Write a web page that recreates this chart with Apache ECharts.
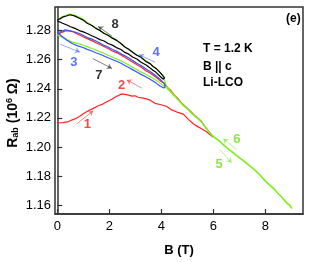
<!DOCTYPE html>
<html><head><meta charset="utf-8">
<script src="https://cdn.jsdelivr.net/npm/echarts@6/dist/echarts.min.js"></script>
<style>html,body{margin:0;padding:0;background:#fff}#c{width:316px;height:262px}</style>
</head><body><div id="c"></div>
<script>
// ---- data (B in T, R in 10^6 Ohm) ----
const xTicks = [0, 2, 4, 6, 8];
const yTicks = [1.16, 1.18, 1.20, 1.22, 1.24, 1.26, 1.28];

const red1Up = [[0,1.2165],[0.2,1.2168],[0.4,1.2172],[0.55,1.2185],[0.68,1.2193],[0.85,1.2210],[1.0,1.2228],[1.19,1.2249],[1.35,1.2262],[1.58,1.2283],[1.75,1.2295],[1.96,1.2316],[2.1,1.2328],[2.25,1.2345],[2.48,1.2365],[2.6,1.2362],[2.75,1.2356],[2.86,1.2350],[3.0,1.2352],[3.1,1.2342],[3.25,1.2338],[3.4,1.2332],[3.57,1.2322],[3.76,1.2300],[3.95,1.2292],[4.2,1.2280],[4.4,1.2255],[4.6,1.2240],[4.85,1.2226],[5.04,1.2190],[5.23,1.2160],[5.4,1.2140],[5.55,1.2126],[5.75,1.2103],[5.94,1.2075],[6.0,1.2068]];

const red2Down = [[6.0,1.2068],[5.85,1.2100],[5.7,1.2135],[5.55,1.2175],[5.4,1.2200],[5.25,1.2222],[5.1,1.2250],[4.95,1.2275],[4.8,1.2298],[4.65,1.2330],[4.5,1.2358],[4.35,1.2390],[4.18,1.2420],[4.1,1.2440],[3.95,1.2456],[3.80,1.2479],[3.57,1.2509],[3.40,1.2525],[3.22,1.2550],[3.06,1.2565],[2.91,1.2583],[2.75,1.2600],[2.60,1.2617],[2.45,1.2632],[2.30,1.2647],[2.12,1.2660],[1.95,1.2677],[1.80,1.2690],[1.64,1.2704],[1.48,1.2716],[1.33,1.2731],[1.15,1.2745],[0.99,1.2758],[0.85,1.2770],[0.68,1.2785],[0.55,1.2795],[0.41,1.2799],[0.3,1.2797],[0.18,1.2788],[0,1.2774]];

const green5Up = [[0,1.2771],[0.18,1.2754],[0.37,1.2738],[0.57,1.2721],[0.78,1.2712],[0.99,1.2701],[1.15,1.2690],[1.33,1.2677],[1.48,1.2667],[1.64,1.2654],[1.80,1.2644],[1.95,1.2630],[2.12,1.2618],[2.30,1.2603],[2.45,1.2592],[2.60,1.2577],[2.75,1.2563],[2.91,1.2546],[3.06,1.2532],[3.22,1.2516],[3.40,1.2500],[3.57,1.2483],[3.80,1.2459],[3.95,1.2439],[4.18,1.2408],[4.33,1.2383],[4.5,1.2352],[4.65,1.2322],[4.85,1.2283],[5.0,1.2262],[5.2,1.2225],[5.35,1.2205],[5.49,1.2182],[5.65,1.2150],[5.8,1.2108],[6.0,1.2070],[6.2,1.2045],[6.4,1.2012],[6.6,1.1982],[6.77,1.1958],[6.95,1.1932],[7.1,1.1912],[7.25,1.1890],[7.41,1.1868],[7.6,1.1840],[7.8,1.1806],[8.05,1.1756],[8.2,1.1732],[8.35,1.1708],[8.5,1.1680],[8.69,1.1645],[8.8,1.1622],[8.9,1.1605],[9.02,1.1578]];

const green6Down = [[9.02,1.1578],[8.96,1.1598],[8.9,1.1592],[8.85,1.1610],[8.75,1.1628],[8.6,1.1662],[8.45,1.1690],[8.3,1.1720],[8.15,1.1742],[8.0,1.1768],[7.8,1.1808],[7.6,1.1843],[7.41,1.1872],[7.2,1.1902],[7.0,1.1928],[6.77,1.1962],[6.6,1.1985],[6.4,1.2016],[6.2,1.2048],[6.0,1.2074],[5.8,1.2112],[5.6,1.2162],[5.4,1.2195],[5.2,1.2228],[5.0,1.2266],[4.85,1.2287],[4.65,1.2326],[4.5,1.2356],[4.33,1.2387],[4.2,1.2420],[4.12,1.2460],[4.07,1.2486],[3.95,1.2513],[3.80,1.2540],[3.57,1.2573],[3.22,1.2617],[2.91,1.2650],[2.60,1.2687],[2.30,1.2731],[1.95,1.2768],[1.64,1.2801],[1.33,1.2837],[1.15,1.2855],[1.0,1.2878],[0.85,1.2891],[0.68,1.2905],[0.49,1.2914],[0.35,1.2906],[0.2,1.2897],[0.1,1.2884],[0,1.2879]];

const blue3Up = [[0,1.2788],[0.18,1.2761],[0.37,1.2734],[0.57,1.2711],[0.78,1.2695],[0.99,1.2684],[1.15,1.2671],[1.33,1.2660],[1.48,1.2648],[1.64,1.2637],[1.80,1.2625],[1.95,1.2613],[2.12,1.2601],[2.30,1.2587],[2.45,1.2575],[2.60,1.2560],[2.75,1.2546],[2.91,1.2530],[3.06,1.2515],[3.22,1.2499],[3.40,1.2483],[3.57,1.2466],[3.80,1.2439],[3.95,1.2419],[4.1,1.2405],[4.15,1.2415]];

const blue4Down = [[4.15,1.2415],[4.15,1.2428],[4.1,1.2439],[3.95,1.2466],[3.80,1.2489],[3.57,1.2519],[3.40,1.2538],[3.22,1.2560],[3.06,1.2575],[2.91,1.2593],[2.75,1.2612],[2.60,1.2627],[2.45,1.2640],[2.30,1.2657],[2.12,1.2670],[1.95,1.2687],[1.80,1.2698],[1.64,1.2714],[1.48,1.2728],[1.33,1.2741],[1.15,1.2752],[0.99,1.2768],[0.85,1.2780],[0.68,1.2790],[0.49,1.2798],[0.3,1.2805],[0.18,1.2795],[0,1.2785]];

const black7Up = [[0,1.2868],[0.18,1.2852],[0.37,1.2838],[0.49,1.2828],[0.68,1.2815],[0.85,1.2800],[1.0,1.2791],[1.15,1.2780],[1.33,1.2764],[1.48,1.2752],[1.64,1.2738],[1.80,1.2728],[1.95,1.2711],[2.12,1.2700],[2.30,1.2681],[2.45,1.2670],[2.60,1.2650],[2.75,1.2638],[2.91,1.2617],[3.06,1.2605],[3.22,1.2583],[3.40,1.2565],[3.57,1.2543],[3.68,1.2528],[3.80,1.2513],[3.95,1.2486],[4.07,1.2466],[4.13,1.2475]];

const black8Down = [[4.13,1.2475],[4.07,1.2486],[3.95,1.2513],[3.80,1.2540],[3.68,1.2553],[3.57,1.2573],[3.40,1.2588],[3.22,1.2617],[3.06,1.2630],[2.91,1.2650],[2.75,1.2672],[2.60,1.2687],[2.45,1.2711],[2.30,1.2731],[2.12,1.2748],[1.95,1.2768],[1.80,1.2780],[1.64,1.2801],[1.48,1.2815],[1.33,1.2835],[1.15,1.2850],[1.0,1.2872],[0.85,1.2885],[0.68,1.2899],[0.58,1.2905],[0.49,1.2909],[0.35,1.2900],[0.2,1.2892],[0.1,1.2880],[0,1.2875]];

// sweep arrows: [tail, head] in data units, and sweep labels
const arrowNames = ['1','2','3','4','5','6','7','8'];
const arrowTails = [[0.75,1.2159],[3.25,1.2405],[0.10,1.2707],[3.76,1.2583],[6.26,1.1981],[6.90,1.1981],[1.37,1.2607],[2.11,1.2761]];
const arrowHeads = [[1.38,1.2249],[2.67,1.2461],[0.87,1.2652],[3.14,1.2634],[6.71,1.1891],[6.38,1.2058],[2.10,1.2540],[1.57,1.2828]];
const labelPos = [[1.16,1.2154],[2.47,1.2425],[0.64,1.2580],[3.80,1.2650],[6.22,1.1882],[6.91,1.2053],[1.60,1.2493],[2.22,1.2842]];

const RED = '#ff2222', BLUE = '#3355ff', GREEN = '#7ff01c', BLACK = '#000000';
const LRED = '#ee1c1c', LBLUE = '#3050ee', LGREEN = '#6ee01a';
const arrowColors = [LRED, LRED, LBLUE, LBLUE, LGREEN, LGREEN, BLACK, BLACK];

const chart = echarts.init(document.getElementById('c'), null, {renderer: 'canvas'});
const FONT = '"Liberation Sans", Arial, sans-serif';

function curve(data, color) {
  return {type: 'line', data: data, showSymbol: false, symbol: 'none', animation: false,
    lineStyle: {color: color, width: 1.2}, z: 2};
}

const series = [
  curve(red1Up, RED), curve(red2Down, RED),
  curve(green5Up, GREEN), curve(green6Down, GREEN),
  curve(blue3Up, BLUE), curve(blue4Down, BLUE),
  curve(black7Up, BLACK), curve(black8Down, BLACK),
  {type: 'lines', coordinateSystem: 'cartesian2d', animation: false, z: 5,
   symbol: ['none', 'arrow'], symbolSize: 5,
   data: arrowNames.map((n, i) => ({coords: [arrowTails[i], arrowHeads[i]],
     lineStyle: {color: arrowColors[i], width: 1}}))},
  {type: 'scatter', animation: false, symbolSize: 1, z: 6,
   itemStyle: {color: 'rgba(0,0,0,0)'},
   label: {show: true, position: 'inside', fontFamily: FONT, fontWeight: 'bold', fontSize: 13,
     formatter: p => p.name},
   data: arrowNames.map((n, i) => ({name: n, value: labelPos[i],
     label: {color: arrowColors[i]}}))}
];

chart.setOption({
  animation: false,
  grid: {left: 55, right: 13, top: 7, bottom: 43, show: true, borderColor: '#333', borderWidth: 1.5},
  xAxis: {type: 'value', min: -0.088, max: 9.45,
    name: 'B (T)', nameLocation: 'middle', nameGap: 30,
    nameTextStyle: {fontFamily: FONT, fontWeight: 'bold', fontSize: 13, color: '#000'},
    axisLine: {show: true, lineStyle: {color: '#333', width: 1.5}},
    axisTick: {show: true, inside: true, length: 5, customValues: xTicks, lineStyle: {color: '#333', width: 1.2}},
    axisLabel: {customValues: xTicks, margin: 6, fontFamily: FONT, fontSize: 13, color: '#000',
      formatter: v => String(Math.round(v))},
    splitLine: {show: false}},
  yAxis: {type: 'value', min: 1.15396, max: 1.2962,
    axisLine: {show: true, lineStyle: {color: '#333', width: 1.5}},
    axisTick: {show: true, inside: true, length: 5, customValues: yTicks, lineStyle: {color: '#333', width: 1.2}},
    axisLabel: {customValues: yTicks, margin: 4, fontFamily: FONT, fontSize: 13, color: '#000',
      formatter: v => v.toFixed(2)},
    splitLine: {show: false}},
  graphic: [
    {type: 'text', left: 203, top: 43, style: {text: 'T = 1.2 K', font: 'bold 12px ' + FONT, fill: '#000'}},
    {type: 'text', left: 203, top: 61, style: {text: 'B || c', font: 'bold 12px ' + FONT, fill: '#000'}},
    {type: 'text', left: 203, top: 77, style: {text: 'Li-LCO', font: 'bold 12px ' + FONT, fill: '#000'}},
    {type: 'text', left: 286, top: 13, style: {text: '(e)', font: 'bold 12px ' + FONT, fill: '#000'}},
    {type: 'text', x: 13, y: 113, rotation: Math.PI / 2,
     style: {text: '{m|R}{s|ab}{m| (10}{p|6}{m| Ω)}', align: 'center', verticalAlign: 'middle',
       rich: {
         m: {fontFamily: FONT, fontWeight: 'bold', fontSize: 14, fill: '#000', color: '#000'},
         s: {fontFamily: FONT, fontWeight: 'bold', fontSize: 9, color: '#000', verticalAlign: 'bottom', padding: [6, 0, 0, 0]},
         p: {fontFamily: FONT, fontWeight: 'bold', fontSize: 9, color: '#000', verticalAlign: 'top', padding: [0, 0, 6, 0]}
       }}}
  ],
  series: series
});
</script></body></html>
